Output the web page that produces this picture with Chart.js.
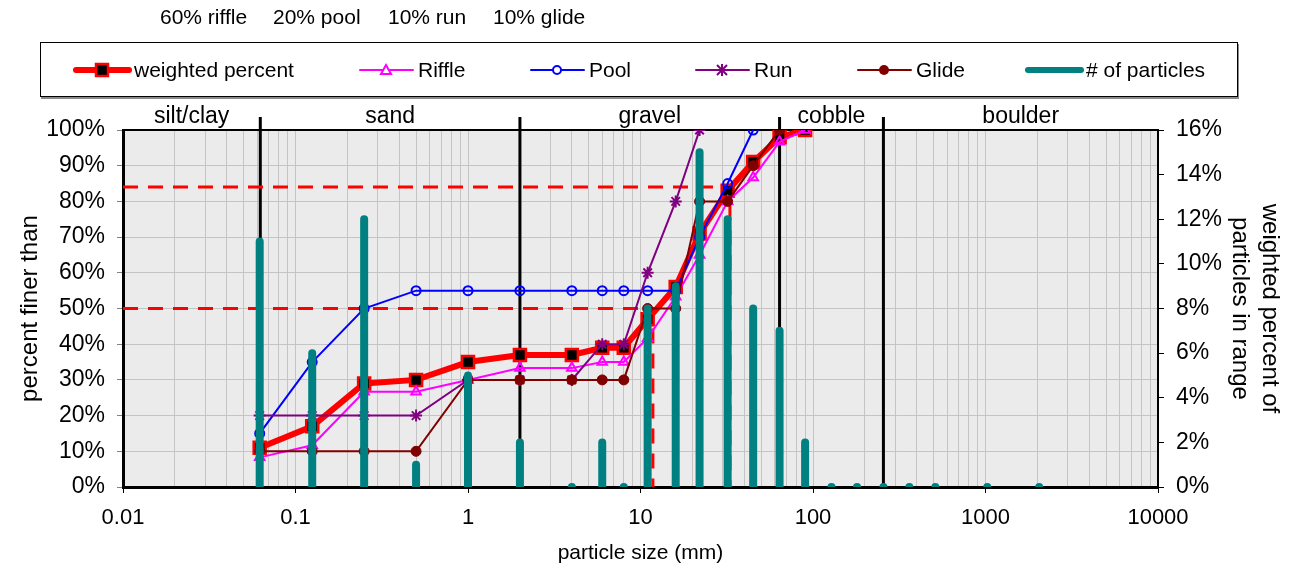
<!DOCTYPE html>
<html>
<head>
<meta charset="utf-8">
<script src="https://cdn.jsdelivr.net/npm/chart.js@4.4.1/dist/chart.umd.min.js"></script>
<style>
  html, body { margin: 0; padding: 0; background: #fff; }
  #wrap { position: relative; width: 1292px; height: 569px; font-family: "Liberation Sans", Arial, sans-serif; color: #000; }
  #chart { position: absolute; left: 0; top: 0; }
  .note { position: absolute; top: 5px; font-size: 21px; line-height: 24px; white-space: nowrap; }
  #legend { position: absolute; left: 40px; top: 42px; width: 1198px; height: 55px; box-sizing: border-box;
            border: 1px solid #000; box-shadow: 1px 2px 0 #8a8a8a; background: #fff; }
  .item { position: absolute; top: 0; height: 53px; display: flex; align-items: center; font-size: 21px; white-space: nowrap; }
  .item svg { margin-right: 2px; }
</style>
</head>
<body>
<div id="wrap">
  <canvas id="chart" width="1292" height="569"></canvas>
  <div id="notes"></div>
  <div id="legend"></div>
</div>
<script>
// sieve sizes (mm) shared by every series
const sizes = [0.062, 0.125, 0.25, 0.5, 1, 2, 4, 6, 8, 11, 16, 22, 32, 45, 64, 90, 128, 180, 256, 362, 512, 1024, 2048];

// cumulative percent finer than
const weighted = [11, 17, 29, 30, 35, 37, 37, 39, 39, 47, 56, 71, 83, 91, 98, 100];
const riffle = [8.3, 11.7, 26.7, 26.7, 30, 33.3, 33.3, 35, 35, 41.7, 53.3, 65, 80, 86.7, 96.7, 100];
const pool = [15, 35, 50, 55, 55, 55, 55, 55, 55, 55, 55, 70, 85, 100];
const run = [20, 20, 20, 20, 30, 30, 30, 40, 40, 60, 80, 100];
const glide = [10, 10, 10, 10, 30, 30, 30, 30, 30, 50, 50, 80, 80, 90, 100];

// weighted percent of particles in each size range (right axis)
const particles = [11, 6, 12, 1, 5, 2, 0, 2, 0, 8, 9, 15, 12, 8, 7, 2, 0, 0, 0, 0, 0, 0, 0];

// D84 / D50 guide lines
const refPercents = [84, 50];
const refSizes = [33, 11.8];

const classNames = ['silt/clay', 'sand', 'gravel', 'cobble', 'boulder'];
const classBounds = [0.01, 0.0625, 2, 64, 256, 10000];

const mixNotes = ['60% riffle', '20% pool', '10% run', '10% glide'];

const xTickValues = [0.01, 0.1, 1, 10, 100, 1000, 10000];
const xTickLabels = ['0.01', '0.1', '1', '10', '100', '1000', '10000'];

// minor grid positions: 1..9 per decade
const xGridValues = [];
for (let d = 0; d < xTickValues.length - 1; d++) {
  for (let m = 1; m < 10; m++) xGridValues.push(+(xTickValues[d] * m).toPrecision(6));
}
xGridValues.push(xTickValues[xTickValues.length - 1]);

const pts = arr => arr.map((v, i) => ({ x: sizes[i], y: v }));

const barPts = [];
sizes.forEach((s, i) => { barPts.push({ x: s, y: 0 }, { x: s, y: particles[i] }, { x: s, y: null }); });

const refPts = [];
refPercents.forEach((p, i) => {
  refPts.push({ x: classBounds[0], y: p }, { x: refSizes[i], y: p }, { x: refSizes[i], y: 0 }, { x: refSizes[i], y: null });
});

const RED = '#ff0000', MAGENTA = '#ff00ff', BLUE = '#0000ff', PURPLE = '#800080', MAROON = '#800000', TEAL = '#008080';

Chart.defaults.font.family = '"Liberation Sans", Arial, sans-serif';
Chart.defaults.color = '#000';

const plotDecor = {
  id: 'plotDecor',
  beforeDraw(chart) {
    const { ctx, chartArea: a } = chart;
    ctx.save();
    ctx.fillStyle = '#ebebeb';
    ctx.fillRect(a.left, a.top, a.right - a.left, a.bottom - a.top);
    ctx.restore();
  },
  beforeDatasetsDraw(chart) {
    const { ctx, chartArea: a } = chart;
    const xs = chart.scales.x;
    ctx.save();
    ctx.strokeStyle = '#000';
    ctx.lineWidth = 2;
    ctx.beginPath();
    ctx.moveTo(a.left, a.top);
    ctx.lineTo(a.right, a.top);
    ctx.stroke();
    // size class boundaries, poking a little above the plot
    ctx.lineWidth = 3;
    classBounds.slice(1, -1).forEach(b => {
      const x = xs.getPixelForValue(b);
      ctx.beginPath();
      ctx.moveTo(x, a.bottom);
      ctx.lineTo(x, a.top - 13);
      ctx.stroke();
    });
    ctx.restore();
  },
  afterDraw(chart) {
    const { ctx, chartArea: a } = chart;
    const xs = chart.scales.x;
    ctx.save();
    ctx.fillStyle = '#000';
    ctx.font = '23px "Liberation Sans", Arial, sans-serif';
    ctx.textAlign = 'center';
    ctx.textBaseline = 'alphabetic';
    classNames.forEach((name, i) => {
      const mid = Math.sqrt(classBounds[i] * classBounds[i + 1]);
      ctx.fillText(name, xs.getPixelForValue(mid), a.top - 7);
    });
    ctx.restore();
  }
};

const chart = new Chart(document.getElementById('chart').getContext('2d'), {
  type: 'line',
  data: {
    datasets: [
      {
        label: '# of particles', data: barPts, yAxisID: 'y2', order: 0,
        borderColor: TEAL, borderWidth: 8, borderCapStyle: 'round', borderJoinStyle: 'round',
        pointRadius: 0, spanGaps: false
      },
      {
        label: 'Glide', data: pts(glide), yAxisID: 'y', order: 1,
        borderColor: MAROON, borderWidth: 2, pointStyle: 'circle', pointRadius: 5,
        pointBackgroundColor: MAROON, pointBorderColor: MAROON, pointBorderWidth: 1
      },
      {
        label: 'Run', data: pts(run), yAxisID: 'y', order: 2,
        borderColor: PURPLE, borderWidth: 2, pointStyle: 'star', pointRadius: 6,
        pointBorderColor: PURPLE, pointBorderWidth: 2
      },
      {
        label: 'Pool', data: pts(pool), yAxisID: 'y', order: 3,
        borderColor: BLUE, borderWidth: 2, pointStyle: 'circle', pointRadius: 4.5,
        pointBackgroundColor: 'rgba(0,0,0,0)', pointBorderColor: BLUE, pointBorderWidth: 2
      },
      {
        label: 'Riffle', data: pts(riffle), yAxisID: 'y', order: 4,
        borderColor: MAGENTA, borderWidth: 2, pointStyle: 'triangle', pointRadius: 5.5,
        pointBackgroundColor: 'rgba(0,0,0,0)', pointBorderColor: MAGENTA, pointBorderWidth: 2
      },
      {
        label: 'weighted percent', data: pts(weighted), yAxisID: 'y', order: 5,
        borderColor: RED, borderWidth: 6, pointStyle: 'rect', pointRadius: 8.5,
        pointBackgroundColor: '#000', pointBorderColor: RED, pointBorderWidth: 2.5
      },
      {
        label: 'D84 / D50', data: refPts, yAxisID: 'y', order: 6,
        borderColor: RED, borderWidth: 3, borderDash: [15, 10], pointRadius: 0, spanGaps: false
      }
    ]
  },
  options: {
    responsive: false,
    animation: false,
    events: [],
    layout: { padding: { top: 130, left: 0, right: 0, bottom: 0 } },
    plugins: { legend: { display: false }, tooltip: { enabled: false } },
    scales: {
      x: {
        type: 'logarithmic', min: classBounds[0], max: classBounds[classBounds.length - 1],
        afterBuildTicks: s => { s.ticks = xGridValues.map(v => ({ value: v, major: xTickValues.includes(v) })); },
        afterFit: s => { s.height = 82; },
        ticks: {
          autoSkip: false, maxRotation: 0, padding: 12, font: { size: 22 },
          callback: v => { const i = xTickValues.indexOf(v); return i >= 0 ? xTickLabels[i] : ''; }
        },
        grid: {
          color: '#c4c4c4', lineWidth: 1, tickLength: 6,
          tickColor: c => (c.tick && c.tick.major ? '#000' : 'rgba(0,0,0,0)')
        },
        border: { color: '#000', width: 3 },
        title: {
          display: true, text: 'particle size (mm)', padding: { top: 0, bottom: 3 },
          font: { size: 21 }
        }
      },
      y: {
        position: 'left', min: 0, max: 100,
        afterFit: s => { s.width = 123; },
        ticks: { stepSize: 10, padding: 12, font: { size: 23 }, callback: v => v + '%' },
        grid: { color: '#c4c4c4', lineWidth: 1, tickLength: 6, tickColor: '#808080' },
        border: { color: '#000', width: 3 },
        title: { display: true, text: 'percent finer than', font: { size: 24 }, padding: { top: 16 } }
      },
      y2: {
        position: 'right', min: 0, max: 16,
        afterFit: s => { s.width = 134; },
        ticks: { stepSize: 2, padding: 12, font: { size: 23 }, callback: v => v + '%' },
        grid: { drawOnChartArea: false, tickLength: 6, tickColor: '#000' },
        border: { color: '#000', width: 2 },
        title: {
          display: true, text: ['weighted percent of', 'particles in range'],
          font: { size: 24, lineHeight: 1.25 }, padding: { top: 7 }
        }
      }
    }
  },
  plugins: [plotDecor]
});

// mix note above the legend
const noteLeft = [160, 273, 388, 493];
const notesEl = document.getElementById('notes');
mixNotes.forEach((t, i) => {
  const s = document.createElement('div');
  s.className = 'note';
  s.style.left = noteLeft[i] + 'px';
  s.textContent = t;
  notesEl.appendChild(s);
});

// legend (line sample + marker, like the spreadsheet legend)
function markerSvg(kind, color) {
  const c = 30, m = 10;
  switch (kind) {
    case 'rect': return `<rect x="${c - 6}" y="${m - 6}" width="12" height="12" fill="#000" stroke="${RED}" stroke-width="2.5"/>`;
    case 'triangle': return `<polygon points="${c},${m - 5} ${c - 5},${m + 4} ${c + 5},${m + 4}" fill="#fff" stroke="${color}" stroke-width="2"/>`;
    case 'circleOpen': return `<circle cx="${c}" cy="${m}" r="4" fill="#fff" stroke="${color}" stroke-width="2"/>`;
    case 'star': return `<path d="M${c - 5} ${m - 5}L${c + 5} ${m + 5}M${c + 5} ${m - 5}L${c - 5} ${m + 5}M${c} ${m - 6}L${c} ${m + 6}M${c - 6} ${m}L${c + 6} ${m}" stroke="${color}" stroke-width="2"/>`;
    case 'circle': return `<circle cx="${c}" cy="${m}" r="5" fill="${color}"/>`;
    default: return '';
  }
}
const legendItems = [
  { label: 'weighted percent', color: RED, width: 6, marker: 'rect', left: 31 },
  { label: 'Riffle', color: MAGENTA, width: 2, marker: 'triangle', left: 315 },
  { label: 'Pool', color: BLUE, width: 2, marker: 'circleOpen', left: 486 },
  { label: 'Run', color: PURPLE, width: 2, marker: 'star', left: 651 },
  { label: 'Glide', color: MAROON, width: 2, marker: 'circle', left: 813 },
  { label: '# of particles', color: TEAL, width: 6, marker: '', left: 983 }
];
const legendEl = document.getElementById('legend');
legendItems.forEach(it => {
  const d = document.createElement('div');
  d.className = 'item';
  d.style.left = it.left + 'px';
  d.innerHTML = `<svg width="60" height="20" viewBox="0 0 60 20">
      <line x1="4" y1="10" x2="57" y2="10" stroke="${it.color}" stroke-width="${it.width}" stroke-linecap="round"/>
      ${markerSvg(it.marker, it.color)}</svg><span>${it.label}</span>`;
  legendEl.appendChild(d);
});
</script>
</body>
</html>
